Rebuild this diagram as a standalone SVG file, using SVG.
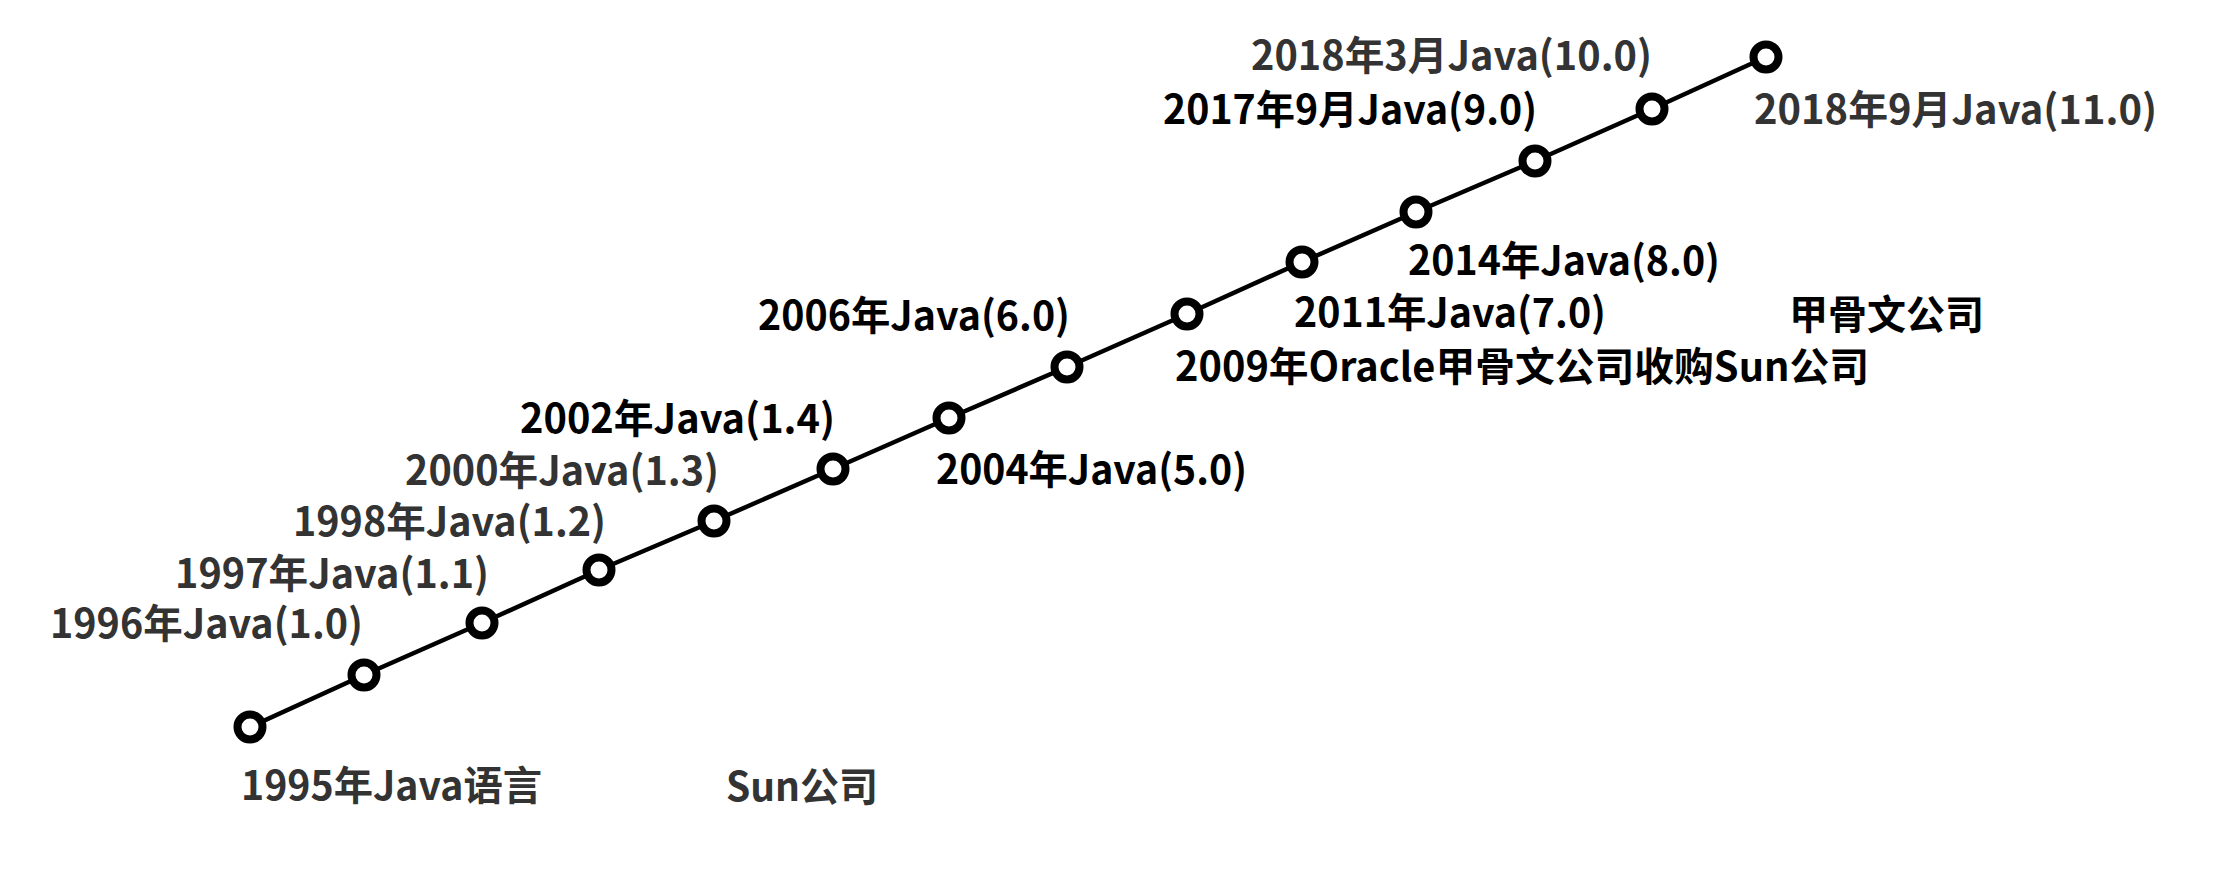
<svg xmlns="http://www.w3.org/2000/svg" width="2214" height="876" viewBox="0 0 2214 876">
<style>
.node{fill:#fff;stroke:#000;stroke-width:8}
.conn{fill:none;stroke:#000;stroke-width:4.5;stroke-linejoin:round}
.t{font-family:"Noto Sans CJK SC","Noto Sans",sans-serif;font-weight:bold;font-size:40px}
.g{fill:#333}
.b{fill:#000}
</style>
<rect width="2214" height="876" fill="#fff"/>
<g id="connectors">
<polyline class="conn" points="250,727 364,675 482,623 599,570 714,521 833,469 949,418 1067,367 1187,314 1302,262 1416,212 1535,161 1652,109 1766,57"/>
</g>
<g id="n1995"><circle class="node" cx="250" cy="727" r="12.5"/></g>
<g id="n1996"><circle class="node" cx="364" cy="675" r="12.5"/></g>
<g id="n1997"><circle class="node" cx="482" cy="623" r="12.5"/></g>
<g id="n1998"><circle class="node" cx="599" cy="570" r="12.5"/></g>
<g id="n2000"><circle class="node" cx="714" cy="521" r="12.5"/></g>
<g id="n2002"><circle class="node" cx="833" cy="469" r="12.5"/></g>
<g id="n2004"><circle class="node" cx="949" cy="418" r="12.5"/></g>
<g id="n2006"><circle class="node" cx="1067" cy="367" r="12.5"/></g>
<g id="n2009"><circle class="node" cx="1187" cy="314" r="12.5"/></g>
<g id="n2011"><circle class="node" cx="1302" cy="262" r="12.5"/></g>
<g id="n2014"><circle class="node" cx="1416" cy="212" r="12.5"/></g>
<g id="n2017"><circle class="node" cx="1535" cy="161" r="12.5"/></g>
<g id="n2018a"><circle class="node" cx="1652" cy="109" r="12.5"/></g>
<g id="n2018b"><circle class="node" cx="1766" cy="57" r="12.5"/></g>
<g id="labels">
<text class="t g" x="241" y="800" textLength="301" lengthAdjust="spacingAndGlyphs">1995年Java语言</text>
<text class="t g" x="726" y="801" textLength="152" lengthAdjust="spacingAndGlyphs">Sun公司</text>
<text class="t g" x="50" y="638" textLength="313" lengthAdjust="spacingAndGlyphs">1996年Java(1.0)</text>
<text class="t g" x="175" y="588" textLength="314" lengthAdjust="spacingAndGlyphs">1997年Java(1.1)</text>
<text class="t g" x="293" y="536" textLength="313" lengthAdjust="spacingAndGlyphs">1998年Java(1.2)</text>
<text class="t g" x="405" y="485" textLength="314" lengthAdjust="spacingAndGlyphs">2000年Java(1.3)</text>
<text class="t b" x="520" y="433" textLength="315" lengthAdjust="spacingAndGlyphs">2002年Java(1.4)</text>
<text class="t b" x="936" y="484" textLength="311" lengthAdjust="spacingAndGlyphs">2004年Java(5.0)</text>
<text class="t b" x="758" y="330" textLength="312" lengthAdjust="spacingAndGlyphs">2006年Java(6.0)</text>
<text class="t b" x="1175" y="381" textLength="694" lengthAdjust="spacingAndGlyphs">2009年Oracle甲骨文公司收购Sun公司</text>
<text class="t b" x="1294" y="327" textLength="312" lengthAdjust="spacingAndGlyphs">2011年Java(7.0)</text>
<text class="t b" x="1408" y="275" textLength="312" lengthAdjust="spacingAndGlyphs">2014年Java(8.0)</text>
<text class="t b" x="1789" y="329" textLength="195" lengthAdjust="spacingAndGlyphs">甲骨文公司</text>
<text class="t b" x="1163" y="124" textLength="374" lengthAdjust="spacingAndGlyphs">2017年9月Java(9.0)</text>
<text class="t g" x="1251" y="70" textLength="401" lengthAdjust="spacingAndGlyphs">2018年3月Java(10.0)</text>
<text class="t g" x="1754" y="124" textLength="403" lengthAdjust="spacingAndGlyphs">2018年9月Java(11.0)</text>
</g>
</svg>
